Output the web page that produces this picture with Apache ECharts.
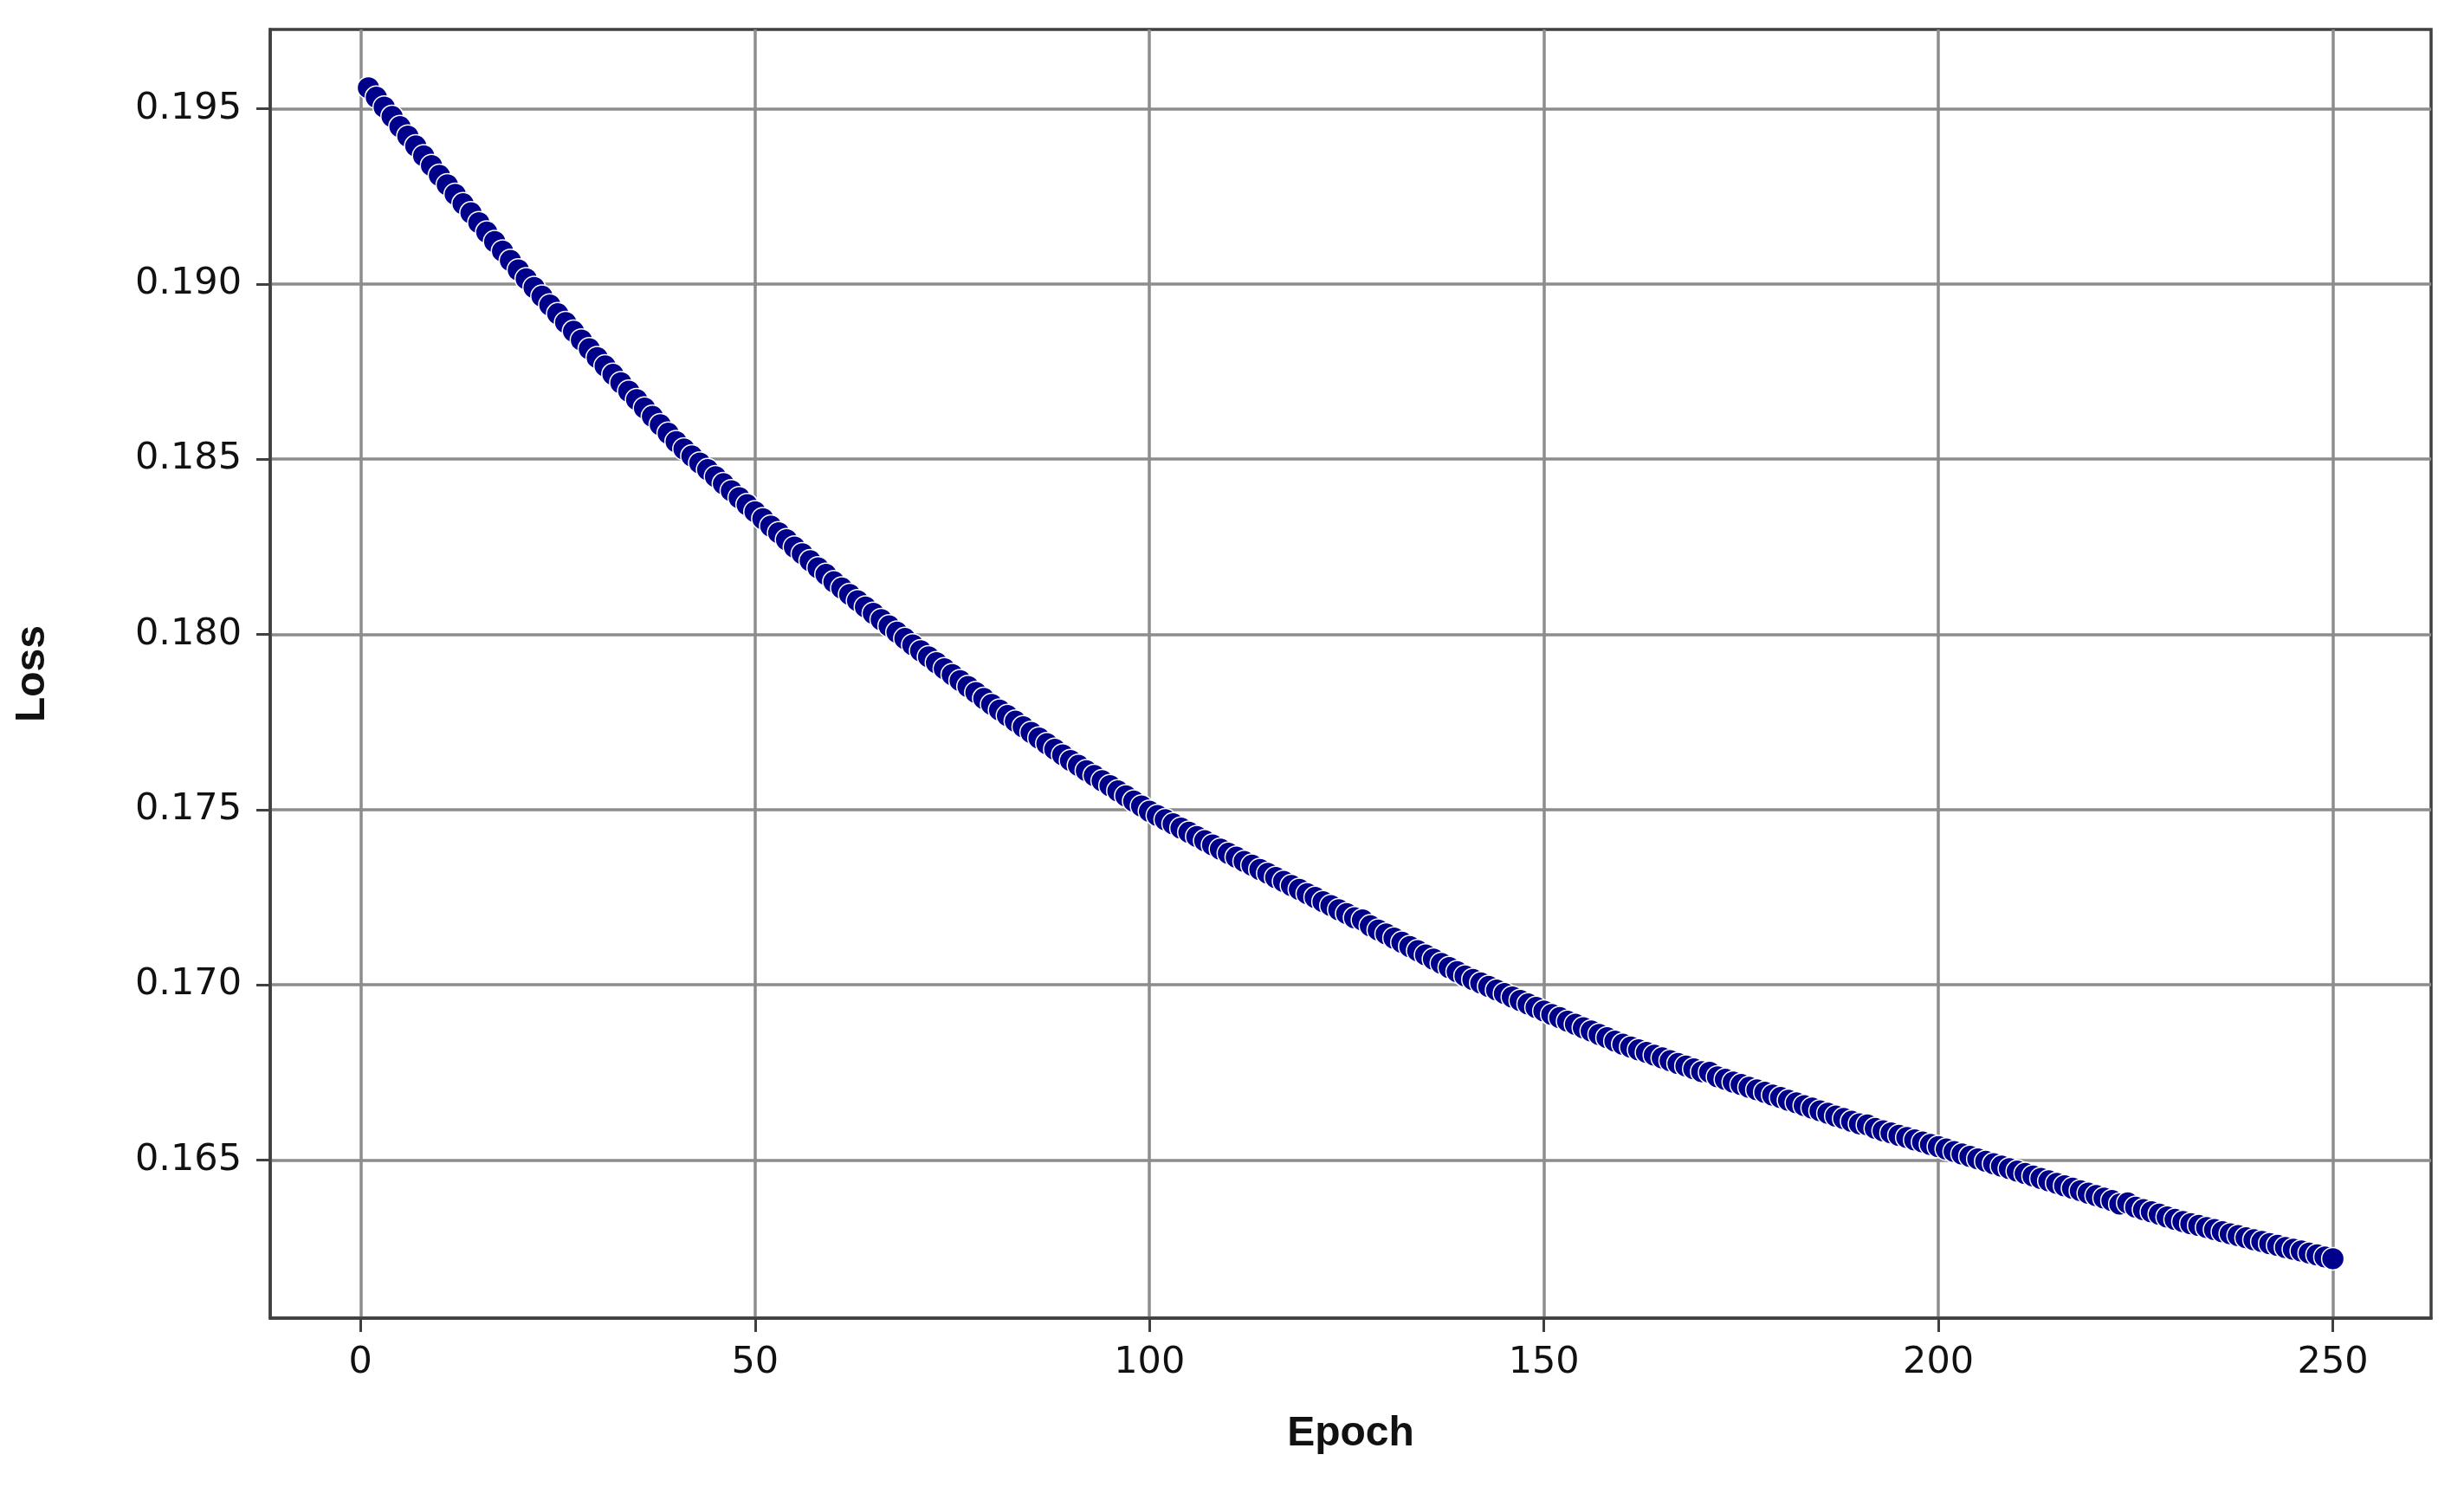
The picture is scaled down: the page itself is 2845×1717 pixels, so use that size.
<!DOCTYPE html>
<html>
<head>
<meta charset="utf-8">
<script src="https://cdn.jsdelivr.net/npm/echarts@6/dist/echarts.min.js"></script>
<style>
html,body{margin:0;padding:0;background:#fff;}
#chart{width:2845px;height:1717px;}
</style>
</head>
<body>
<div id="chart"></div>
<script>
// Loss per epoch, epochs 1..250
const lossValues = [
0.19560,0.19533,0.19505,0.19478,0.19449,0.19422,0.19394,0.19366,0.19338,0.19310,
0.19283,0.19256,0.19229,0.19203,0.19175,0.19148,0.19121,0.19094,0.19067,0.19040,
0.19015,0.18990,0.18965,0.18940,0.18915,0.18890,0.18865,0.18840,0.18815,0.18790,
0.18766,0.18742,0.18718,0.18694,0.18670,0.18646,0.18622,0.18598,0.18574,0.18550,
0.18529,0.18509,0.18489,0.18470,0.18450,0.18430,0.18410,0.18390,0.18370,0.18350,
0.18330,0.18309,0.18290,0.18270,0.18249,0.18230,0.18210,0.18190,0.18171,0.18150,
0.18132,0.18114,0.18096,0.18078,0.18060,0.18042,0.18024,0.18006,0.17988,0.17970,
0.17953,0.17936,0.17919,0.17902,0.17885,0.17868,0.17851,0.17834,0.17817,0.17800,
0.17784,0.17768,0.17752,0.17736,0.17720,0.17704,0.17688,0.17672,0.17656,0.17640,
0.17626,0.17611,0.17597,0.17582,0.17568,0.17553,0.17539,0.17524,0.17510,0.17495,
0.17483,0.17471,0.17459,0.17447,0.17435,0.17423,0.17411,0.17399,0.17387,0.17375,
0.17364,0.17352,0.17341,0.17329,0.17318,0.17306,0.17295,0.17283,0.17272,0.17260,
0.17249,0.17237,0.17226,0.17214,0.17203,0.17191,0.17185,0.17168,0.17156,0.17145,
0.17133,0.17121,0.17109,0.17097,0.17085,0.17073,0.17061,0.17049,0.17037,0.17025,
0.17015,0.17005,0.16995,0.16985,0.16975,0.16965,0.16955,0.16945,0.16935,0.16925,
0.16915,0.16906,0.16896,0.16887,0.16877,0.16868,0.16858,0.16849,0.16839,0.16830,
0.16822,0.16814,0.16807,0.16799,0.16791,0.16783,0.16775,0.16768,0.16760,0.16752,
0.16750,0.16737,0.16730,0.16722,0.16715,0.16707,0.16700,0.16693,0.16685,0.16678,
0.16670,0.16663,0.16655,0.16648,0.16640,0.16633,0.16625,0.16618,0.16610,0.16603,
0.16600,0.16590,0.16583,0.16577,0.16570,0.16564,0.16557,0.16551,0.16544,0.16538,
0.16531,0.16524,0.16517,0.16510,0.16503,0.16496,0.16489,0.16482,0.16475,0.16468,
0.16461,0.16454,0.16447,0.16440,0.16433,0.16426,0.16419,0.16412,0.16405,0.16398,
0.16391,0.16384,0.16374,0.16377,0.16365,0.16358,0.16352,0.16345,0.16337,0.16330,
0.16324,0.16318,0.16313,0.16307,0.16301,0.16295,0.16289,0.16284,0.16278,0.16272,
0.16267,0.16261,0.16256,0.16250,0.16245,0.16240,0.16234,0.16229,0.16223,0.16218
];
const firstEpoch = 1;
const xTicks = [0, 50, 100, 150, 200, 250];
const yTicks = [0.165, 0.170, 0.175, 0.180, 0.185, 0.190, 0.195];
const xName = 'Epoch';
const yName = 'Loss';

const points = lossValues.map((v, i) => [firstEpoch + i, v]);

const chart = echarts.init(document.getElementById('chart'), null, {renderer: 'canvas'});
const tickFont = {fontFamily: 'DejaVu Sans', fontSize: 43, color: '#111'};
const nameFont = {fontFamily: 'Liberation Sans', fontSize: 48, fontWeight: 'bold', color: '#111'};

chart.setOption({
  backgroundColor: '#ffffff',
  animation: false,
  grid: {
    left: 312, right: 38, top: 34, bottom: 195,
    show: true, borderColor: '#404040', borderWidth: 3.5, backgroundColor: 'transparent'
  },
  xAxis: {
    type: 'value',
    min: -11.45, max: 262.45,
    name: xName, nameLocation: 'middle', nameGap: 110, nameTextStyle: nameFont,
    axisLine: {show: true, onZero: false, lineStyle: {color: '#404040', width: 3.5}},
    axisTick: {show: true, customValues: xTicks, length: 16, lineStyle: {color: '#404040', width: 3}},
    axisLabel: {show: true, customValues: xTicks, margin: 30, ...tickFont},
    splitLine: {show: true, lineStyle: {color: '#8c8c8c', width: 3.5}}
  },
  yAxis: {
    type: 'value',
    min: 0.160485, max: 0.197266,
    name: yName, nameLocation: 'middle', nameGap: 250, nameRotate: 90, nameTextStyle: nameFont,
    axisLine: {show: true, onZero: false, lineStyle: {color: '#404040', width: 3.5}},
    axisTick: {show: true, customValues: yTicks, length: 16, lineStyle: {color: '#404040', width: 3}},
    axisLabel: {show: true, customValues: yTicks, margin: 33, formatter: v => Number(v).toFixed(3), ...tickFont},
    splitLine: {show: true, lineStyle: {color: '#8c8c8c', width: 3.5}}
  },
  series: [{
    type: 'scatter',
    data: points,
    symbol: 'circle',
    symbolSize: 26,
    itemStyle: {color: '#00008B', borderColor: '#ffffff', borderWidth: 1.5, opacity: 1},
    emphasis: {disabled: true},
    z: 5
  }]
});
</script>
</body>
</html>
